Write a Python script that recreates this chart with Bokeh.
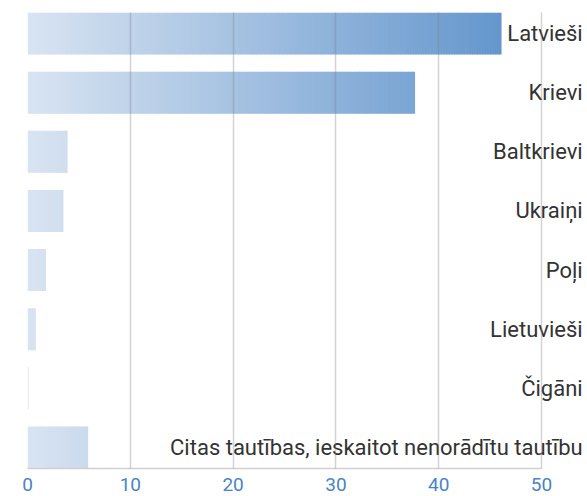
from bokeh.plotting import figure
from bokeh.models import ColumnDataSource, Range1d, FixedTicker
from bokeh.core.properties import value
from bokeh.embed import file_html
from bokeh.resources import INLINE

categories = ["Latvieši", "Krievi", "Baltkrievi", "Ukraiņi", "Poļi",
              "Lietuvieši", "Čigāni", "Citas tautības, ieskaitot nenorādītu tautību"]
values = [46.1, 37.7, 3.9, 3.5, 1.8, 0.8, 0.1, 5.9]
x_ticks = [0, 10, 20, 30, 40, 50]

# gradient styling
c0 = (217, 228, 242)
c1 = (101, 151, 205)
g_max = 46.0
step = 0.25
bar_h = 0.712

lefts, rights, ys, colors = [], [], [], []
for i, v in enumerate(values):
    x = 0.0
    while x < v:
        r = min(x + step * 1.3, v)
        mid = min(x + step / 2, v)
        t = min(mid / g_max, 1.0)
        col = tuple(int(round(a + (b - a) * t)) for a, b in zip(c0, c1))
        lefts.append(x)
        rights.append(r)
        ys.append(i)
        colors.append("#%02x%02x%02x" % col)
        x += step

seg = ColumnDataSource(dict(left=lefts, right=rights, y=ys, color=colors))
lab = ColumnDataSource(dict(x=[54.0] * len(categories), y=list(range(len(categories))), text=categories))

p = figure(width=587, height=496, output_backend="svg", toolbar_location=None,
           x_range=Range1d(0, 54.47), y_range=Range1d(7 + bar_h / 2, -bar_h / 2),
           min_border_left=27, min_border_right=0, min_border_top=12, min_border_bottom=28)
p.outline_line_color = None
p.background_fill_color = "white"
p.border_fill_color = "white"

p.hbar(left="left", right="right", y="y", height=bar_h, fill_color="color",
       line_color=None, source=seg)

p.text(x="x", y="y", text="text", source=lab, text_align="right", text_baseline="middle",
       text_font=value("Roboto"), text_font_size="22px", text_color="#333333")

p.yaxis.visible = False
p.ygrid.visible = False
p.xgrid.ticker = FixedTicker(ticks=x_ticks)
p.xgrid.bounds = (0, 50)
p.xgrid.grid_line_color = "#808080"
p.xgrid.grid_line_alpha = 0.35
p.xgrid.grid_line_width = 1.5
p.xgrid.level = "overlay"

xa = p.xaxis[0]
xa.ticker = FixedTicker(ticks=x_ticks)
xa.bounds = (0, 50)
xa.axis_line_color = "#d0d0d0"
xa.axis_line_width = 1.5
xa.major_tick_line_color = None
xa.minor_tick_line_color = None
xa.major_label_text_color = "#4a84c4"
xa.major_label_text_font = "Roboto"
xa.major_label_text_font_size = "19px"
xa.major_label_standoff = 3

open("out.html", "w").write(file_html(p, INLINE))
